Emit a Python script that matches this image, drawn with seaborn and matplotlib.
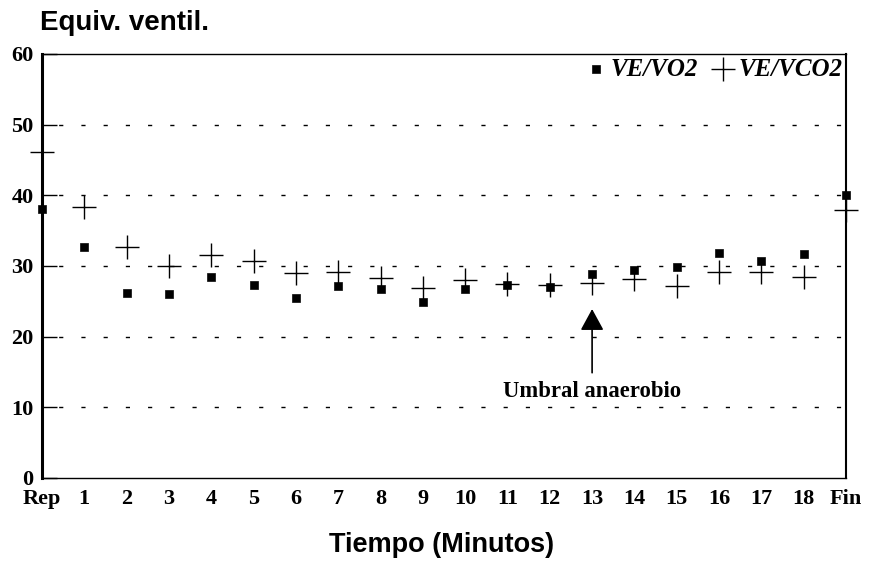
import matplotlib
matplotlib.use("Agg")
import matplotlib.pyplot as plt
import seaborn as sns
import pandas as pd
import numpy as np

categories = ["Rep", "1", "2", "3", "4", "5", "6", "7", "8", "9", "10",
              "11", "12", "13", "14", "15", "16", "17", "18", "Fin"]
ve_vo2 = [38.0, 32.7, 26.2, 26.0, 28.4, 27.3, 25.5, 27.2, 26.7, 24.9, 26.7,
          27.3, 27.0, 28.8, 29.5, 29.8, 31.9, 30.7, 31.7, 40.0]
ve_vco2 = [46.1, 38.3, 32.7, 30.0, 31.6, 30.7, 29.0, 29.1, 28.3, 26.9, 28.0,
           27.5, 27.3, 27.6, 28.1, 27.2, 29.2, 29.1, 28.5, 37.9]
y_ticks = [0, 10, 20, 30, 40, 50, 60]

sns.set_theme(style="white")
plt.rcParams['font.family'] = ['Liberation Sans', 'DejaVu Sans']
for k in ["text.color", "axes.labelcolor", "xtick.color", "ytick.color", "axes.edgecolor"]:
    plt.rcParams[k] = "black"

pos = np.arange(len(categories))
df = pd.DataFrame({"pos": np.concatenate([pos, pos]),
                   "val": ve_vo2 + ve_vco2,
                   "serie": ["VE/VO2"] * len(pos) + ["VE/VCO2"] * len(pos)})

fig = plt.figure(figsize=(8.71, 5.67), dpi=100)
ax = fig.add_axes([0.0482, 0.157, 0.9231, 0.7478])

d1 = df[df.serie == "VE/VO2"]
d2 = df[df.serie == "VE/VCO2"]
sns.scatterplot(data=d1, x="pos", y="val", marker="s", s=34, color="black",
                edgecolor="black", ax=ax, clip_on=False, zorder=5, label="VE/VO2")
sns.scatterplot(data=d2, x="pos", y="val", marker="+", s=300, color="black",
                linewidth=1.0, ax=ax, clip_on=False, zorder=5, label="VE/VCO2")

ax.set_xlim(0, 19)
ax.set_ylim(0, 60)
ax.set_yticks(y_ticks)
ax.set_yticklabels([str(t) for t in y_ticks], family="Liberation Serif",
                   fontweight="bold", fontsize=16)
ax.set_xticks(pos)
ax.set_xticklabels(categories, family="Liberation Serif", fontweight="bold", fontsize=16)
ax.tick_params(axis="x", length=0, pad=8)
ax.tick_params(axis="y", direction="in", length=11, width=1.0, pad=6, left=True)
ax.set_xlabel("")
ax.set_ylabel("")

for y in [10, 20, 30, 40, 50]:
    ax.axhline(y, color="black", lw=1.0, linestyle=(4, (3, 13)), zorder=1)

for side in ["top", "right", "bottom"]:
    ax.spines[side].set_color("black")
    ax.spines[side].set_linewidth(1.0)
ax.spines["right"].set_linewidth(1.5)
ax.spines["left"].set_color("black")
ax.spines["left"].set_linewidth(2.2)

ax.annotate("", xy=(13, 24.3), xytext=(13, 14.5),
            arrowprops=dict(arrowstyle="-|>,head_length=1.1,head_width=0.6",
                            color="black", lw=1.2))
ax.text(13, 12.2, "Umbral anaerobio", ha="center", va="center",
        family="Liberation Serif", fontweight="bold", fontsize=16.3)

leg = ax.legend(loc="upper right", frameon=False, ncol=2, handletextpad=0.1,
                columnspacing=0.5, borderaxespad=0.0, borderpad=0.15, handlelength=1.0,
                prop=dict(family="Liberation Serif", weight="bold", style="italic", size=18))

fig.text(0.046, 0.947, "Equiv. ventil.", fontsize=20, fontweight="bold", ha="left", va="baseline")
fig.text(0.507, 0.038, "Tiempo (Minutos)", fontsize=19.5, fontweight="bold", ha="center", va="center")

fig.savefig("out.png", dpi=100)
